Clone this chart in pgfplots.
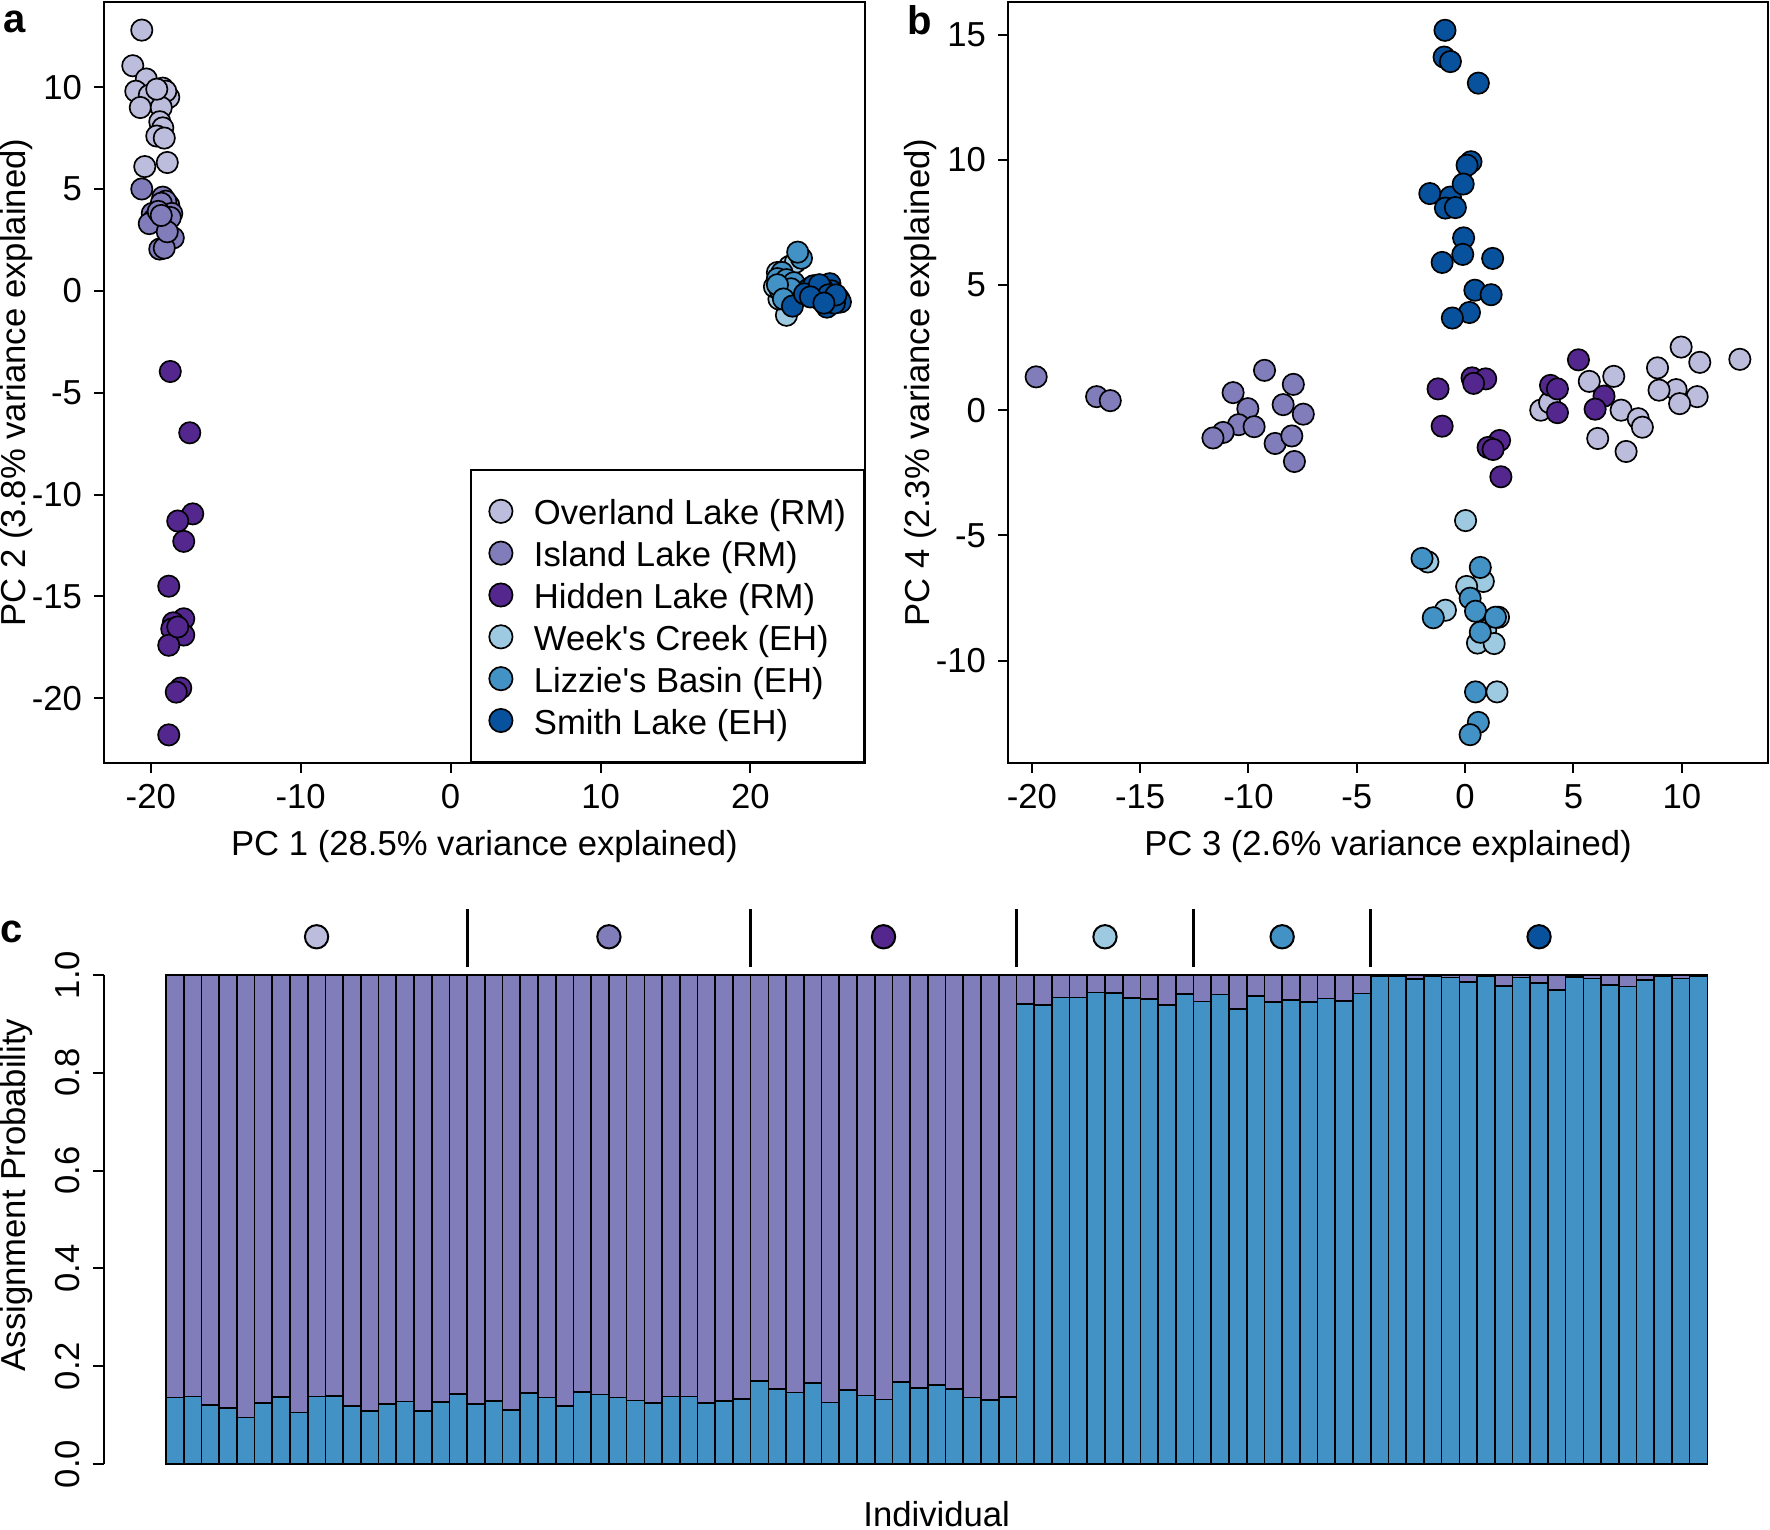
\documentclass[border=0pt]{standalone}
\usepackage{fontspec}
\setmainfont{Liberation Sans}
\usepackage{pgfplots}
\usepackage{pgfplotstable}
\pgfplotsset{compat=1.18}

\definecolor{cOver}{HTML}{BCBDDC}
\definecolor{cIsl}{HTML}{807DBA}
\definecolor{cHid}{HTML}{54278F}
\definecolor{cWeek}{HTML}{9ECAE1}
\definecolor{cLiz}{HTML}{4292C6}
\definecolor{cSmith}{HTML}{08519C}

\newcommand{\fs}{\fontsize{10.4}{12.5}\selectfont}

\pgfplotstableread{
x b p
1 0.136 0.864
2 0.138 0.862
3 0.121 0.879
4 0.114 0.886
5 0.095 0.905
6 0.125 0.875
7 0.137 0.863
8 0.105 0.895
9 0.138 0.862
10 0.139 0.861
11 0.119 0.881
12 0.108 0.892
13 0.123 0.877
14 0.128 0.872
15 0.108 0.892
16 0.127 0.873
17 0.143 0.857
18 0.123 0.877
19 0.129 0.871
20 0.111 0.889
21 0.145 0.855
22 0.136 0.864
23 0.119 0.881
24 0.147 0.853
25 0.142 0.858
26 0.136 0.864
27 0.130 0.870
28 0.125 0.875
29 0.138 0.862
30 0.138 0.862
31 0.125 0.875
32 0.129 0.871
33 0.133 0.867
34 0.170 0.830
35 0.154 0.846
36 0.146 0.854
37 0.166 0.834
38 0.126 0.874
39 0.151 0.849
40 0.140 0.860
41 0.132 0.868
42 0.168 0.832
43 0.156 0.844
44 0.161 0.839
45 0.153 0.847
46 0.136 0.864
47 0.131 0.869
48 0.137 0.863
49 0.940 0.060
50 0.938 0.062
51 0.954 0.046
52 0.954 0.046
53 0.964 0.036
54 0.963 0.037
55 0.953 0.047
56 0.951 0.049
57 0.938 0.062
58 0.961 0.039
59 0.946 0.054
60 0.960 0.040
61 0.930 0.070
62 0.957 0.043
63 0.945 0.055
64 0.949 0.051
65 0.945 0.055
66 0.952 0.048
67 0.947 0.053
68 0.962 0.038
69 0.997 0.003
70 0.997 0.003
71 0.991 0.009
72 0.997 0.003
73 0.995 0.005
74 0.986 0.014
75 0.997 0.003
76 0.978 0.022
77 0.995 0.005
78 0.984 0.016
79 0.969 0.031
80 0.996 0.004
81 0.993 0.007
82 0.980 0.020
83 0.976 0.024
84 0.990 0.010
85 0.997 0.003
86 0.993 0.007
87 0.997 0.003
}\assign

\pgfplotsset{
  pca/.style={
    scale only axis, width=228.3pt, height=228.3pt,
    anchor=south west, enlargelimits=false, clip=false,
    axis line style={line width=0.6pt},
    tick align=outside, major tick length=3pt,
    tick style={line width=0.6pt, black},
    tick pos=left,
    xticklabel style={anchor=north, inner sep=0pt, font=\fs},
    yticklabel style={anchor=east, inner sep=0pt, font=\fs},
    xticklabel shift=3.2pt, yticklabel shift=3.4pt,
    label style={font=\fs},
    xlabel style={at={(axis description cs:0.5,-0.1095)}, anchor=center},
    ylabel style={at={(axis description cs:-0.1148,0.5)}, anchor=center},
  },
  pt/.style={only marks, mark=*, mark size=3.2pt,
    mark options={draw=black, line width=0.5pt, fill=#1}},
}

\begin{document}
\begin{tikzpicture}[font=\fs]
\path[use as bounding box] (0pt,0pt) rectangle (531pt,458.7pt);

% ---------------- panel a
\begin{axis}[pca, at={(31.2pt,229.8pt)},
  xmin=-23.12, xmax=27.64, ymin=-23.18, ymax=14.18,
  xtick={-20,-10,0,10,20}, xticklabels={-20,-10,0,10,20},
  ytick={-20,-15,-10,-5,0,5,10}, yticklabels={-20,-15,-10,-5,0,5,10},
  xlabel={PC 1 (28.5\% variance explained)},
  ylabel={PC 2 (3.8\% variance explained)},
  legend cell align=left,
  legend image code/.code={\draw[#1, mark size=3.5pt] plot coordinates {(0pt,0pt)};},
  legend style={at={(1,0)}, anchor=south east, draw=black, line width=0.6pt,
    fill=white, font=\fs, inner xsep=5.4pt, inner ysep=7.6pt, row sep=2.85pt,
    nodes={inner sep=0pt, text height=8.95pt, text depth=0.75pt},
    /tikz/every odd column/.append style={column sep=6.4pt}},
]
\addplot[pt=cOver] coordinates {(-20.6,12.8) (-21.2,11.05) (-20.3,10.4) (-21.0,9.8) (-20.1,9.6) (-19.2,9.95) (-18.8,9.5) (-19.0,9.8) (-20.7,9.0) (-19.3,9.0) (-19.4,8.3) (-19.2,8.0) (-19.6,7.6) (-19.1,7.5) (-20.4,6.1) (-18.9,6.3) (-19.6,9.9)};
\addlegendentry{Overland Lake (RM)}
\addplot[pt=cIsl] coordinates {(-20.6,5.0) (-19.2,4.6) (-18.8,4.2) (-19.0,4.4) (-19.3,4.3) (-19.9,3.8) (-19.8,3.5) (-20.1,3.3) (-18.6,3.8) (-18.7,3.6) (-18.5,2.6) (-19.4,2.05) (-19.1,2.1) (-19.5,3.9) (-18.9,2.9) (-19.3,3.7)};
\addlegendentry{Island Lake (RM)}
\addplot[pt=cHid] coordinates {(-18.7,-3.96) (-17.4,-6.97) (-17.2,-10.95) (-18.2,-11.3) (-17.8,-12.3) (-18.8,-14.5) (-17.8,-16.1) (-18.5,-16.3) (-17.8,-16.9) (-18.6,-16.6) (-18.8,-17.4) (-18.0,-19.5) (-18.3,-19.7) (-18.8,-21.8) (-18.2,-16.5)};
\addlegendentry{Hidden Lake (RM)}
\addplot[pt=cWeek] coordinates {(22.4,-1.2) (21.9,-0.4) (22.0,0.5) (21.8,0.9) (22.6,1.2) (22.3,-0.1) (21.6,0.2) (22.9,-0.2) (22.1,0.8) (23.0,1.4)};
\addlegendentry{Week\textquotesingle s Creek (EH)}
\addplot[pt=cLiz] coordinates {(23.4,1.6) (23.15,1.9) (22.1,0.9) (21.8,0.6) (22.4,0.55) (22.9,0.4) (22.0,0.0) (22.7,0.1) (21.8,0.3) (22.2,-0.4)};
\addlegendentry{Lizzie\textquotesingle s Basin (EH)}
\addplot[pt=cSmith] coordinates {(22.8,-0.75) (23.9,0.1) (24.4,-0.15) (25.0,0.25) (25.3,0.35) (25.4,0.0) (24.7,-0.45) (25.1,-0.8) (25.9,-0.4) (26.0,-0.55) (25.6,-0.6) (24.2,0.25) (23.6,-0.15) (24.8,0.1) (24.6,0.3) (25.2,-0.2) (24.0,-0.3) (25.7,-0.2) (24.9,-0.6)};
\addlegendentry{Smith Lake (EH)}
\end{axis}

% ---------------- panel b
\begin{axis}[pca, at={(302.4pt,229.8pt)}, width=228pt,
  xmin=-21.1, xmax=13.98, ymin=-14.09, ymax=16.3,
  xtick={-20,-15,-10,-5,0,5,10}, xticklabels={-20,-15,-10,-5,0,5,10},
  ytick={-10,-5,0,5,10,15}, yticklabels={-10,-5,0,5,10,15},
  xlabel={PC 3 (2.6\% variance explained)},
  ylabel={PC 4 (2.3\% variance explained)},
]
\addplot[pt=cOver] coordinates {(12.68,2.03) (9.97,2.52) (10.83,1.91) (8.88,1.69) (6.86,1.35) (5.73,1.15) (9.74,0.82) (8.95,0.80) (10.71,0.54) (9.90,0.26) (7.20,0.00) (7.99,-0.34) (8.18,-0.68) (3.49,0.00) (3.90,0.30) (6.12,-1.13) (7.43,-1.65)};
\addplot[pt=cIsl] coordinates {(-19.80,1.33) (-17.01,0.54) (-16.38,0.38) (-9.26,1.59) (-10.71,0.70) (-7.93,1.03) (-10.03,0.06) (-8.40,0.22) (-7.47,-0.16) (-10.46,-0.58) (-9.74,-0.66) (-11.17,-0.89) (-11.64,-1.11) (-8.77,-1.33) (-8.00,-1.03) (-7.88,-2.05)};
\addplot[pt=cHid] coordinates {(5.23,2.01) (-1.25,0.85) (0.32,1.29) (0.95,1.25) (0.39,1.07) (-1.06,-0.64) (3.94,0.99) (4.26,0.85) (6.41,0.56) (6.00,0.04) (4.26,-0.10) (1.59,-1.21) (1.06,-1.49) (1.29,-1.57) (1.65,-2.66)};
\addplot[pt=cWeek] coordinates {(0.02,-4.41) (-1.72,-6.06) (0.84,-6.84) (0.07,-7.04) (-0.91,-7.99) (0.95,-8.79) (0.57,-9.30) (1.34,-9.32) (1.47,-11.25) (1.54,-8.27)};
\addplot[pt=cLiz] coordinates {(-1.99,-5.92) (0.70,-6.28) (0.23,-7.51) (0.48,-8.03) (1.40,-8.27) (-1.47,-8.29) (0.70,-8.87) (0.48,-11.25) (0.61,-12.47) (0.23,-12.96)};
\addplot[pt=cSmith] coordinates {(-0.93,15.17) (-0.97,14.10) (-0.68,13.92) (0.61,13.06) (0.27,9.92) (0.09,9.78) (-1.63,8.65) (-0.68,8.51) (-0.91,8.07) (-0.45,8.09) (-0.09,9.03) (-0.07,6.88) (-0.11,6.22) (-1.06,5.90) (1.27,6.06) (0.45,4.79) (1.20,4.61) (0.20,3.90) (-0.59,3.68)};
\end{axis}

% ---------------- panel c (bars)
\begin{axis}[scale only axis, width=499.4pt, height=174.3pt,
  at={(31.3pt,13.05pt)}, anchor=south west, clip=false,
  xmin=-2.98, xmax=90.98, ymin=-0.044, ymax=1.144,
  ybar stacked, bar width=1,
  axis x line=none, axis y line*=left,
  y axis line style={draw=none},
  tick align=outside, major tick length=3.5pt,
  tick style={line width=0.6pt, black},
  ytick={0,0.2,0.4,0.6,0.8,1}, yticklabels={0.0,0.2,0.4,0.6,0.8,1.0},
  yticklabel style={rotate=90, anchor=south, inner sep=0pt, font=\fs},
  yticklabel shift=3.6pt,
  ylabel={Assignment Probability},
  ylabel style={at={(axis description cs:-0.0525,0.5)}, anchor=center, font=\fs},
]
\addplot[fill=cLiz, draw=black, line width=0.5pt] table[x=x, y=b] {\assign};
\addplot[fill=cIsl, draw=black, line width=0.5pt] table[x=x, y=p] {\assign};
\draw[line width=0.6pt] (axis cs:-2.98,0) -- (axis cs:-2.98,1);
\node[font=\fs, anchor=center] at (axis description cs:0.5,-0.049) {Individual};
\end{axis}

% ---------------- panel c (group markers)
\begin{axis}[scale only axis, width=499.4pt, height=174.3pt,
  at={(31.3pt,13.05pt)}, anchor=south west, clip=false, hide axis,
  xmin=-2.98, xmax=90.98, ymin=-0.044, ymax=1.144]
\addplot[black, line width=0.8pt] coordinates {(17.5,1.016) (17.5,1.135)};
\addplot[black, line width=0.8pt] coordinates {(33.5,1.016) (33.5,1.135)};
\addplot[black, line width=0.8pt] coordinates {(48.5,1.016) (48.5,1.135)};
\addplot[black, line width=0.8pt] coordinates {(58.5,1.016) (58.5,1.135)};
\addplot[black, line width=0.8pt] coordinates {(68.5,1.016) (68.5,1.135)};
\addplot[only marks, mark=*, mark size=3.5pt, mark options={draw=black, line width=0.6pt, fill=cOver}] coordinates {(9,1.078)};
\addplot[only marks, mark=*, mark size=3.5pt, mark options={draw=black, line width=0.6pt, fill=cIsl}] coordinates {(25.5,1.078)};
\addplot[only marks, mark=*, mark size=3.5pt, mark options={draw=black, line width=0.6pt, fill=cHid}] coordinates {(41,1.078)};
\addplot[only marks, mark=*, mark size=3.5pt, mark options={draw=black, line width=0.6pt, fill=cWeek}] coordinates {(53.5,1.078)};
\addplot[only marks, mark=*, mark size=3.5pt, mark options={draw=black, line width=0.6pt, fill=cLiz}] coordinates {(63.5,1.078)};
\addplot[only marks, mark=*, mark size=3.5pt, mark options={draw=black, line width=0.6pt, fill=cSmith}] coordinates {(78,1.078)};
\end{axis}

\node[font=\bfseries\fontsize{12}{14}\selectfont] at (4.3pt,452.1pt) {a};
\node[font=\bfseries\fontsize{12}{14}\selectfont] at (276pt,452.7pt) {b};
\node[font=\bfseries\fontsize{12}{14}\selectfont] at (3.6pt,179.1pt) {c};
\end{tikzpicture}
\end{document}
